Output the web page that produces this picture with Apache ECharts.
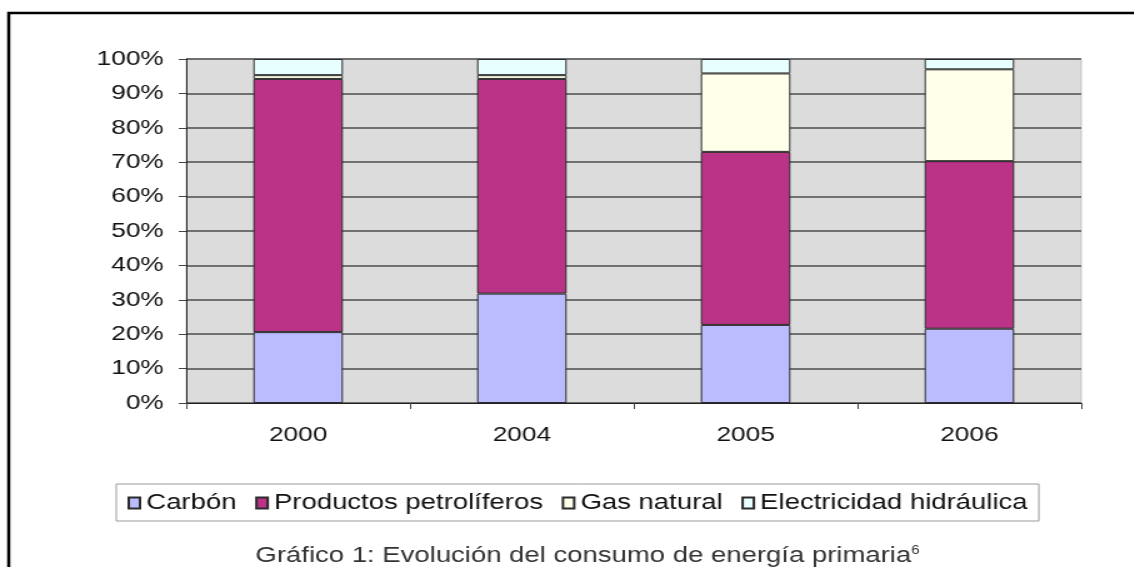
<!DOCTYPE html>
<html>
<head>
    <meta charset="utf-8">
    <title>Evolución del consumo de energía primaria</title>
    <style>
        *{
            margin: 0;
            padding: 0;
        }
        body{
            background: #fff;
            overflow: hidden;
        }
        /* la imagen original está estirada en horizontal (~1.25x) */
        #main{
            width: 907px;
            height: 567px;
            transform: scaleX(1.25);
            transform-origin: 0 0;
        }
    </style>
    <script src="https://cdn.jsdelivr.net/npm/echarts@6/dist/echarts.min.js"></script>
</head>
<body>
    <div id="main"></div>
    <script type="text/javascript">
        // datos (% del total)
        var years = ['2000', '2004', '2005', '2006'];
        var carbon = [20.6, 31.8, 22.7, 21.6];
        var petroleo = [73.6, 62.4, 50.3, 48.7];
        var gas = [1.1, 1.1, 22.8, 26.7];
        var hidraulica = [4.7, 4.7, 4.2, 3.0];

        var seriesNames = ['Carbón', 'Productos petrolíferos', 'Gas natural', 'Electricidad hidráulica'];
        var seriesData = [carbon, petroleo, gas, hidraulica];
        var colors = ['#BBBBFF', '#BA3386', '#FFFFEA', '#E8FFFF'];

        var fontFam = '"Liberation Sans", Arial, sans-serif';

        var chart = echarts.init(document.getElementById('main'));

        var series = seriesNames.map(function (name, i) {
            return {
                name: name,
                type: 'bar',
                stack: 'total',
                barWidth: '40%',
                data: seriesData[i],
                itemStyle: {
                    color: colors[i],
                    borderColor: '#2b2b2b',
                    borderWidth: 1
                }
            };
        });

        var option = {
            animation: false,
            color: colors,
            title: {
                text: 'Gráfico 1: Evolución del consumo de energía primaria{sup|6}',
                left: 465,
                textAlign: 'center',
                top: 540,
                textStyle: {
                    fontFamily: fontFam,
                    fontSize: 22,
                    fontWeight: 'normal',
                    color: '#333',
                    rich: {
                        sup: {
                            fontFamily: fontFam,
                            fontSize: 12,
                            color: '#333',
                            verticalAlign: 'top',
                            padding: [0, 0, 10, 0]
                        }
                    }
                }
            },
            legend: {
                data: seriesNames,
                left: 93,
                top: 484,
                padding: [8, 9, 7, 9],
                itemGap: 15,
                itemWidth: 9,
                itemHeight: 11,
                borderColor: '#9a9a9a',
                borderWidth: 1,
                icon: 'rect',
                textStyle: {
                    fontFamily: fontFam,
                    fontSize: 22,
                    color: '#111'
                }
            },
            graphic: [{
                type: 'rect',
                shape: { x: 7, y: 13, width: 950, height: 600 },
                style: { fill: 'none', stroke: '#000', lineWidth: 2.5 },
                silent: true
            }],
            grid: {
                left: 149,
                right: 42,
                top: 59,
                bottom: 164,
                show: true,
                backgroundColor: '#DCDCDC',
                borderColor: '#c4c4c4',
                borderWidth: 1
            },
            xAxis: {
                type: 'category',
                data: years,
                axisLine: { lineStyle: { color: '#222', width: 1 } },
                axisTick: { show: true, length: 6, lineStyle: { color: '#444' } },
                axisLabel: {
                    fontFamily: fontFam,
                    fontSize: 21,
                    color: '#111',
                    margin: 22
                }
            },
            yAxis: {
                type: 'value',
                min: 0,
                max: 100,
                interval: 10,
                axisLine: { show: true, lineStyle: { color: '#222', width: 1 } },
                axisTick: { show: true, length: 6, lineStyle: { color: '#444' } },
                axisLabel: {
                    formatter: '{value}%',
                    fontFamily: fontFam,
                    fontSize: 21,
                    color: '#111',
                    margin: 18
                },
                splitLine: { lineStyle: { color: '#707070', width: 2 } }
            },
            series: series
        };

        chart.setOption(option);
    </script>
</body>
</html>
